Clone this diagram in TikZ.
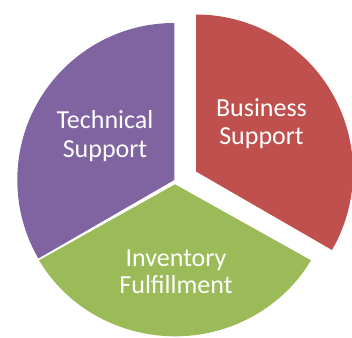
\documentclass[tikz,border=0pt]{standalone}
\usepackage{fontspec}
\setmainfont{Carlito}
\definecolor{slicePurple}{HTML}{8064A2}
\definecolor{sliceRed}{HTML}{C0504D}
\definecolor{sliceGreen}{HTML}{9BBB59}
\begin{document}
\begin{tikzpicture}[x=1pt,y=1pt,
  slice/.style={draw=none},
  label/.style={text=white,font=\fontsize{26}{28}\selectfont,anchor=base,inner sep=0pt}]
\useasboundingbox (0,0) rectangle (352,337);
\clip (0,0) rectangle (352,337);
% apexes of the three exploded slices
\coordinate (pApex) at (174.3,157);
\coordinate (rApex) at (196,165.5);
\coordinate (gApex) at (175,152.7);
% slices
\fill[slice,slicePurple] (pApex) -- ++(90:157) arc[start angle=90,end angle=210,radius=157] -- cycle;
\fill[slice,sliceRed] (rApex) -- ++(-30:157) arc[start angle=-30,end angle=90,radius=157] -- cycle;
\fill[slice,sliceGreen] (gApex) -- ++({157*cos(210)},{152*sin(210)}) arc[start angle=210,end angle=330,x radius=157,y radius=152] -- cycle;
% labels
\node[label] (techA) at (105,208) {Technical};
\node[label] (techB) at (105,179.5) {Support};
\node[label] (busA) at (261.5,220.3) {Business};
\node[label] (busB) at (261.5,192) {Support};
\node[label] (invA) at (176,70.3) {Inventory};
\node[label] (invB) at (176,43.7) {Fulfillment};
\end{tikzpicture}
\end{document}
